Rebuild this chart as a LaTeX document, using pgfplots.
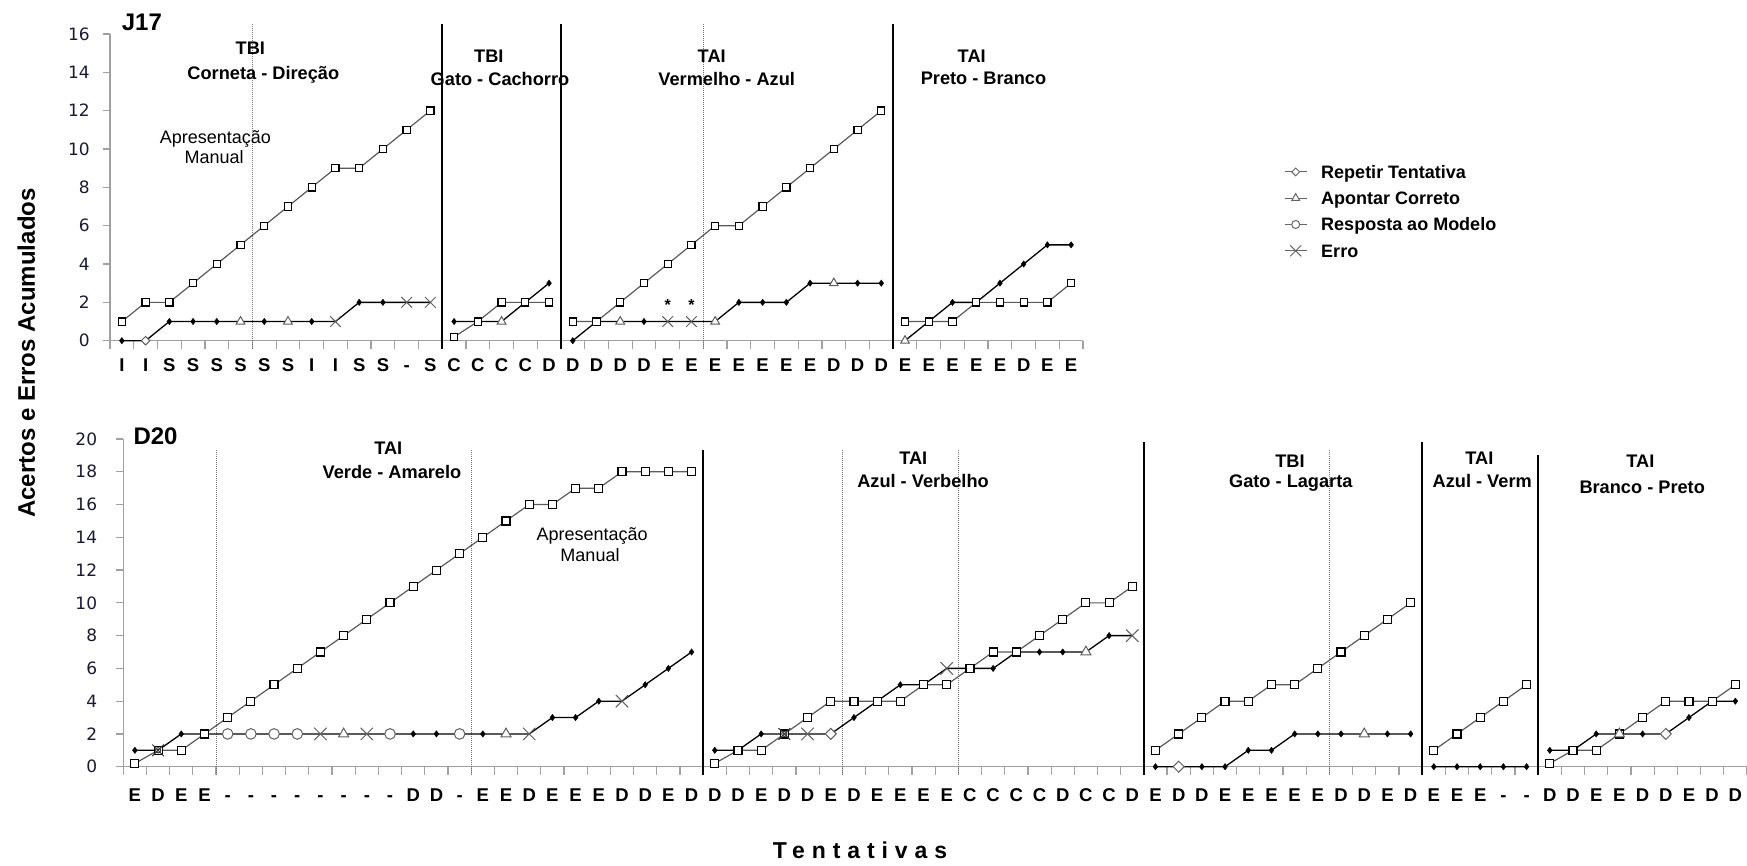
\documentclass[border=0pt]{standalone}
\usepackage{fontspec}
\setmainfont{Liberation Sans}
\newfontfamily\dejavu{DejaVu Sans}
\usepackage{pgfplots}
\usepackage{pgfplotstable}
\pgfplotsset{compat=1.18}

\newcommand\xtfont{\fontsize{18.5}{21}\selectfont\bfseries}
\newcommand\ytfont{\dejavu\fontsize{17}{20}\selectfont}
\newcommand\ttlfont{\fontsize{18.2}{21}\selectfont\bfseries}
\newcommand\annfont{\fontsize{18}{21}\selectfont}
\newcommand\legfont{\fontsize{18}{21}\selectfont\bfseries}
\definecolor{tickcol}{RGB}{25,25,55}
\definecolor{axcol}{RGB}{160,160,160}
\definecolor{sqcol}{RGB}{90,90,90}
\definecolor{spc}{RGB}{95,95,95}

\pgfdeclareplotmark{blank}{}
\pgfdeclareplotmark{rhomb}{%
  \pgfpathmoveto{\pgfqpoint{0pt}{\pgfplotmarksize}}%
  \pgfpathlineto{\pgfqpoint{\pgfplotmarksize}{0pt}}%
  \pgfpathlineto{\pgfqpoint{0pt}{-\pgfplotmarksize}}%
  \pgfpathlineto{\pgfqpoint{-\pgfplotmarksize}{0pt}}%
  \pgfpathclose\pgfusepathqfillstroke}
\pgfdeclareplotmark{xx}{%
  \pgfpathmoveto{\pgfqpoint{-\pgfplotmarksize}{-\pgfplotmarksize}}%
  \pgfpathlineto{\pgfqpoint{\pgfplotmarksize}{\pgfplotmarksize}}%
  \pgfpathmoveto{\pgfqpoint{-\pgfplotmarksize}{\pgfplotmarksize}}%
  \pgfpathlineto{\pgfqpoint{\pgfplotmarksize}{-\pgfplotmarksize}}%
  \pgfusepathqstroke}
\pgfdeclareplotmark{xo}{%
  \pgfpathmoveto{\pgfqpoint{-\pgfplotmarksize}{-\pgfplotmarksize}}%
  \pgfpathlineto{\pgfqpoint{\pgfplotmarksize}{\pgfplotmarksize}}%
  \pgfpathmoveto{\pgfqpoint{-\pgfplotmarksize}{\pgfplotmarksize}}%
  \pgfpathlineto{\pgfqpoint{\pgfplotmarksize}{-\pgfplotmarksize}}%
  \pgfusepathqstroke
  \pgfpathcircle{\pgfpointorigin}{0.45\pgfplotmarksize}%
  \pgfusepathqstroke
  \pgfpathcircle{\pgfpointorigin}{0.15\pgfplotmarksize}%
  \pgfusepathqfill}

% ---------- J17 data ----------
\pgfplotstableread{
x y
0 1
1 2
2 2
3 3
4 4
5 5
6 6
7 7
8 8
9 9
10 9
11 10
12 11
13 12
13.5 nan
14 0.2
15 1
16 2
17 2
18 2
18.5 nan
19 1
20 1
21 2
22 3
23 4
24 5
25 6
26 6
27 7
28 8
29 9
30 10
31 11
32 12
32.5 nan
33 1
34 1
35 1
36 2
37 2
38 2
39 2
40 3
}\topSq

\pgfplotstableread{
x y m
0 0 d
1 0 r
2 1 d
3 1 d
4 1 d
5 1 t
6 1 d
7 1 t
8 1 d
9 1 x
10 2 d
11 2 d
12 2 x
13 2 x
13.5 nan d
14 1 d
15 1 d
16 1 t
17 2 d
18 3 d
18.5 nan d
19 0 d
20 1 d
21 1 t
22 1 d
23 1 x
24 1 x
25 1 t
26 2 d
27 2 d
28 2 d
29 3 d
30 3 t
31 3 d
32 3 d
32.5 nan d
33 0 t
34 1 d
35 2 d
36 2 d
37 3 d
38 4 d
39 5 d
40 5 d
}\topEr

% ---------- D20 data ----------
\pgfplotstableread{
x y
0 0.2
1 1
2 1
3 2
4 3
5 4
6 5
7 6
8 7
9 8
10 9
11 10
12 11
13 12
14 13
15 14
16 15
17 16
18 16
19 17
20 17
21 18
22 18
23 18
24 18
24.5 nan
25 0.2
26 1
27 1
28 2
29 3
30 4
31 4
32 4
33 4
34 5
35 5
36 6
37 7
38 7
39 8
40 9
41 10
42 10
43 11
43.5 nan
44 1
45 2
46 3
47 4
48 4
49 5
50 5
51 6
52 7
53 8
54 9
55 10
55.5 nan
56 1
57 2
58 3
59 4
60 5
60.5 nan
61 0.2
62 1
63 1
64 2
65 3
66 4
67 4
68 4
69 5
}\botSq

\pgfplotstableread{
x y m
0 1 d
1 1 k
2 2 d
3 2 d
4 2 c
5 2 c
6 2 c
7 2 c
8 2 x
9 2 t
10 2 x
11 2 c
12 2 d
13 2 d
14 2 c
15 2 d
16 2 t
17 2 x
18 3 d
19 3 d
20 4 d
21 4 x
22 5 d
23 6 d
24 7 d
24.5 nan d
25 1 d
26 1 d
27 2 d
28 2 k
29 2 x
30 2 r
31 3 d
32 4 d
33 5 d
34 5 d
35 6 x
36 6 d
37 6 d
38 7 d
39 7 d
40 7 d
41 7 t
42 8 d
43 8 x
43.5 nan d
44 0 d
45 0 r
46 0 d
47 0 d
48 1 d
49 1 d
50 2 d
51 2 d
52 2 d
53 2 t
54 2 d
55 2 d
55.5 nan d
56 0 d
57 0 d
58 0 d
59 0 d
60 0 d
60.5 nan d
61 1 d
62 1 d
63 2 d
64 2 t
65 2 d
66 2 r
67 3 d
68 4 d
69 4 d
}\botEr

\tikzset{
  solidsep/.style={black, line width=1.5pt},
  dotsep/.style={black!55, line width=1pt, densely dotted},
}

\pgfplotsset{
  panel/.style={scale only axis, clip=false, axis lines=left,
    axis line style={-, draw=axcol, line width=1.4pt},
    tick align=outside,
    major x tick style={draw=none},
    minor x tick style={draw=axcol, line width=1.2pt},
    minor tick length=8pt,
    major y tick style={draw=axcol, line width=1.2pt},
    major tick length=7pt,
    xticklabel style={font=\xtfont, anchor=base, inner sep=0pt, text=black},
    yticklabel style={font=\ytfont, anchor=east, inner sep=0pt, text=tickcol},
    /pgf/number format/assume math mode=true,
    unbounded coords=jump,
  },
  errln/.style={black, line width=1.3pt, no markers, forget plot},
  sqln/.style={sqcol, line width=1.2pt, no markers, forget plot},
  dotcls/.style={only marks, forget plot, scatter, point meta=explicit symbolic,
    scatter/classes={d={mark=diamond*, mark size=3.2pt, draw=black, fill=black},
      r={mark=blank}, t={mark=blank}, c={mark=blank}, x={mark=blank}, k={mark=blank}}},
  sqmk/.style={only marks, forget plot, mark=square*, mark size=#1,
    mark options={draw=black, fill=white, line width=1.15pt}},
  spcTop/.style={only marks, forget plot, scatter, point meta=explicit symbolic,
    scatter/classes={d={mark=blank},
      r={mark=rhomb, mark size=4.3pt, draw=spc, fill=white, line width=1pt},
      t={mark=triangle*, mark size=5pt, draw=spc, fill=white, line width=1pt},
      c={mark=*, mark size=5pt, draw=spc, fill=white, line width=1pt},
      x={mark=xx, mark size=5.3pt, draw=spc, line width=1pt},
      k={mark=xo, mark size=5.3pt, draw=spc, fill=spc, line width=1pt}}},
  spcBot/.style={only marks, forget plot, scatter, point meta=explicit symbolic,
    scatter/classes={d={mark=blank},
      r={mark=rhomb, mark size=5.5pt, draw=spc, fill=white, line width=1pt},
      t={mark=triangle*, mark size=5.8pt, draw=spc, fill=white, line width=1pt},
      c={mark=*, mark size=5.3pt, draw=spc, fill=white, line width=1pt},
      x={mark=xx, mark size=6.2pt, draw=spc, line width=1pt},
      k={mark=xo, mark size=5.8pt, draw=black!80, fill=black!80, line width=1pt}}},
}

\begin{document}
\begin{tikzpicture}
\path[use as bounding box] (0,0) rectangle (1747pt,865pt);

% ================= J17 =================
\begin{axis}[panel,
  at={(110pt,524.3pt)}, anchor=south west,
  width=973pt, height=306.7pt,
  xmin=-0.5, xmax=40.5, ymin=0, ymax=16,
  xtick={0,1,...,40},
  xticklabels={I,I,S,S,S,S,S,S,I,I,S,S,-,S,C,C,C,C,D,D,D,D,D,E,E,E,E,E,E,E,D,D,D,E,E,E,E,E,D,E,E},
  minor xtick={-0.5,0.5,...,40.5},
  ytick={0,2,...,16},
  xticklabel style={yshift=-24pt},
  yticklabel style={xshift=-13pt},
  legend style={at={(1.2066,0.5714)}, anchor=north west, draw=none, fill=none, inner sep=0pt,
    font=\legfont, row sep=13.8pt, column sep=14pt,
    nodes={inner sep=0pt, font=\legfont, text height=12.5pt, text depth=0pt}},
  legend cell align=left,
  legend image code/.code={\draw[mark repeat=2,mark phase=2,#1] plot coordinates {(0pt,0pt) (11pt,0pt) (22pt,0pt)};},
]
\addlegendimage{black!60, line width=1pt, mark=rhomb, mark size=3.9pt, mark options={draw=black!60, fill=white, line width=1pt}}
\addlegendentry{\legfont Repetir Tentativa}
\addlegendimage{black!60, line width=1pt, mark=triangle*, mark size=4.6pt, mark options={draw=black!60, fill=white, line width=1pt}}
\addlegendentry{\legfont Apontar Correto}
\addlegendimage{black!60, line width=1pt, mark=*, mark size=4pt, mark options={draw=black!60, fill=white, line width=1pt}}
\addlegendentry{\legfont Resposta ao Modelo}
\addlegendimage{black!60, line width=1pt, mark=xx, mark size=5.5pt, mark options={draw=black!60, line width=1pt}}
\addlegendentry{\legfont Erro}

\draw[dotsep] (axis cs:5.5,-0.42) -- (axis cs:5.5,16.5);
\draw[dotsep] (axis cs:24.5,-0.42) -- (axis cs:24.5,16.5);
\draw[solidsep] (axis cs:13.5,-0.42) -- (axis cs:13.5,16.5);
\draw[solidsep] (axis cs:18.5,-0.42) -- (axis cs:18.5,16.5);
\draw[solidsep] (axis cs:32.5,-0.42) -- (axis cs:32.5,16.5);

\addplot[errln] table[x=x,y=y] {\topEr};
\addplot[sqln] table[x=x,y=y] {\topSq};
\addplot[dotcls] table[x=x,y=y,meta=m] {\topEr};
\addplot[sqmk=3.6pt] table[x=x,y=y] {\topSq};
\addplot[spcTop] table[x=x,y=y,meta=m] {\topEr};

\node[font=\fontsize{16}{18}\selectfont\bfseries, inner sep=0pt] at (axis cs:23,1.85) {*};
\node[font=\fontsize{16}{18}\selectfont\bfseries, inner sep=0pt] at (axis cs:24,1.85) {*};
\end{axis}

% ================= D20 =================
\begin{axis}[panel,
  at={(123.3pt,98.3pt)}, anchor=south west,
  width=1623.7pt, height=327.7pt,
  xmin=-0.5, xmax=69.5, ymin=0, ymax=20,
  xtick={0,1,...,69},
  xticklabels={E,D,E,E,-,-,-,-,-,-,-,-,D,D,-,E,E,D,E,E,E,D,D,E,D,D,D,E,D,D,E,D,E,E,E,E,C,C,C,C,D,C,C,D,E,D,D,E,E,E,E,E,D,D,E,D,E,E,E,-,-,D,D,E,E,D,D,E,D,D},
  minor xtick={-0.5,0.5,...,69.5},
  ytick={0,2,...,20},
  xticklabel style={yshift=-28pt},
  yticklabel style={xshift=-19pt},
]
\draw[dotsep] (axis cs:3.5,-0.49) -- (axis cs:3.5,19.4);
\draw[dotsep] (axis cs:14.5,-0.49) -- (axis cs:14.5,19.4);
\draw[dotsep] (axis cs:30.5,-0.49) -- (axis cs:30.5,19.3);
\draw[dotsep] (axis cs:35.5,-0.49) -- (axis cs:35.5,19.3);
\draw[dotsep] (axis cs:51.5,-0.49) -- (axis cs:51.5,19.3);
\draw[solidsep] (axis cs:24.5,-0.49) -- (axis cs:24.5,19.3);
\draw[solidsep] (axis cs:43.5,-0.49) -- (axis cs:43.5,19.8);
\draw[solidsep] (axis cs:55.5,-0.49) -- (axis cs:55.5,19.8);
\draw[solidsep] (axis cs:60.5,-0.49) -- (axis cs:60.5,19.0);

\addplot[errln] table[x=x,y=y] {\botEr};
\addplot[sqln] table[x=x,y=y] {\botSq};
\addplot[dotcls] table[x=x,y=y,meta=m] {\botEr};
\addplot[sqmk=4pt] table[x=x,y=y] {\botSq};
\addplot[spcBot] table[x=x,y=y,meta=m] {\botEr};
\end{axis}

% ================= texts =================
\node[font=\fontsize{24}{28}\selectfont\bfseries, anchor=base west, inner sep=0pt] at (121.7pt,834.3pt) {J17};
\node[font=\fontsize{24}{28}\selectfont\bfseries, anchor=base west, inner sep=0pt] at (133.3pt,420pt) {D20};

\begin{scope}[every node/.style={font=\ttlfont, anchor=base, inner sep=0pt}]
\node at (250.3pt,810pt) {TBI};
\node at (263.3pt,785.7pt) {Corneta - Direção};
\node at (488.8pt,802.3pt) {TBI};
\node at (500pt,779.3pt) {Gato - Cachorro};
\node at (711.7pt,802.3pt) {TAI};
\node at (726.7pt,779.3pt) {Vermelho - Azul};
\node at (971.7pt,802.3pt) {TAI};
\node at (983.5pt,780pt) {Preto - Branco};

\node at (388.3pt,410pt) {TAI};
\node at (392pt,386.7pt) {Verde - Amarelo};
\node at (913.3pt,400pt) {TAI};
\node at (923pt,377.3pt) {Azul - Verbelho};
\node at (1290pt,397.7pt) {TBI};
\node at (1290.8pt,377.3pt) {Gato - Lagarta};
\node at (1479.3pt,400pt) {TAI};
\node at (1482.2pt,377.3pt) {Azul - Verm};
\node at (1640.3pt,397.7pt) {TAI};
\node at (1642.2pt,371pt) {Branco - Preto};
\end{scope}

\begin{scope}[every node/.style={font=\annfont, anchor=base, inner sep=0pt}]
\node at (215.3pt,721.7pt) {Apresentação};
\node at (214.2pt,701pt) {Manual};
\node at (592.2pt,324.3pt) {Apresentação};
\node at (590pt,303.3pt) {Manual};
\end{scope}

\node[font=\fontsize{24}{28}\selectfont\bfseries, rotate=90, anchor=base, inner sep=0pt] at (35pt,512pt) {Acertos e Erros Acumulados};
\node[font=\fontsize{23}{27}\selectfont\bfseries\addfontfeatures{LetterSpace=30}, anchor=base, inner sep=0pt] at (860pt,6.7pt) {Tentativas};
\end{tikzpicture}
\end{document}
